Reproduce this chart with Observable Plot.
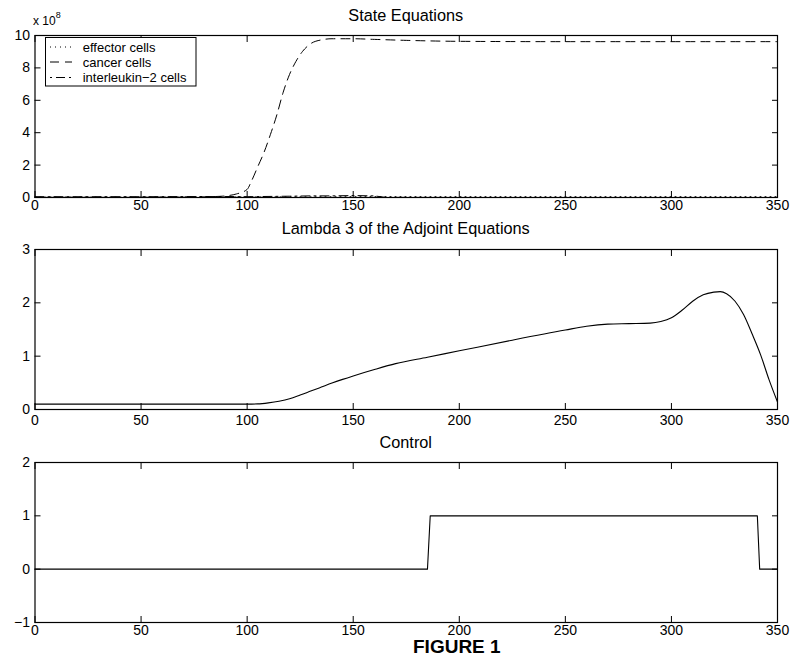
<!DOCTYPE html>
<html><head><meta charset="utf-8">
<script src="https://cdn.jsdelivr.net/npm/d3@7"></script>
<script src="https://cdn.jsdelivr.net/npm/@observablehq/plot@0.6"></script>
<style>
body{margin:0;background:#fff;}
#root{position:relative;width:793px;height:653px;overflow:hidden;font-family:"Liberation Sans",Arial,sans-serif;color:#000;background:#fff;}
#root svg{position:absolute;left:0;}
.ttl{position:absolute;left:34.5px;width:742.5px;text-align:center;font-size:16.3px;line-height:1;white-space:nowrap;}
</style></head><body><div id="root"></div>
<script>
// ---- Panel 1: State Equations (values in units of 1e8) ----
const stateTitle = "State Equations";
const stateMultiplier = "x 10";
const stateExponent = "8";
const seriesNames = ["effector cells", "cancer cells", "interleukin\u22122 cells"];
const cancerT = [0, 20, 40, 60, 80, 85, 90, 95, 100, 102, 105, 108, 111, 114, 117, 120, 123, 126, 130, 135, 140, 150, 160, 175, 200, 250, 300, 350];
const cancerV = [0.01, 0.01, 0.01, 0.02, 0.04, 0.06, 0.1, 0.22, 0.5, 1.0, 1.9, 2.8, 3.9, 5.1, 6.5, 7.6, 8.4, 9.0, 9.5, 9.73, 9.8, 9.8, 9.76, 9.7, 9.64, 9.62, 9.62, 9.62];
const effectorT = [0, 50, 100, 130, 160, 200, 250, 300, 350];
const effectorV = [0.02, 0.02, 0.03, 0.04, 0.05, 0.05, 0.05, 0.05, 0.05];
const il2T = [0, 50, 90, 100, 120, 130, 140, 150, 160, 165, 200, 250, 300, 350];
const il2V = [0.05, 0.05, 0.06, 0.05, 0.08, 0.1, 0.1, 0.12, 0.1, 0.01, 0.0, 0.0, 0.0, 0.0];
const stateYTicks = [0, 2, 4, 6, 8, 10];

// ---- Panel 2: Lambda 3 ----
const lambdaTitle = "Lambda 3 of the Adjoint Equations";
const lambdaT = [0, 50, 100, 105, 110, 115, 120, 125, 130, 135, 140, 145, 150, 160, 170, 185, 200, 225, 250, 260, 270, 280, 290, 295, 300, 305, 310, 315, 320, 323, 326, 330, 334, 338, 342, 346, 350];
const lambdaV = [0.1, 0.1, 0.1, 0.105, 0.125, 0.155, 0.2, 0.27, 0.345, 0.42, 0.495, 0.565, 0.63, 0.75, 0.86, 0.98, 1.1, 1.3, 1.49, 1.56, 1.6, 1.61, 1.62, 1.65, 1.72, 1.86, 2.03, 2.15, 2.2, 2.21, 2.17, 2.03, 1.78, 1.42, 1.03, 0.56, 0.14];
const lambdaYTicks = [0, 1, 2, 3];

// ---- Panel 3: Control ----
const controlTitle = "Control";
const controlT = [0, 185, 186.3, 340.5, 341.6, 350];
const controlV = [0, 0, 1, 1, 0, 0];
const controlYTicks = [-1, 0, 1, 2];

const xTicks = [0, 50, 100, 150, 200, 250, 300, 350];
const figureLabel = "FIGURE 1";

const toRows = (ts, vs) => ts.map((t, i) => ({t, v: vs[i]}));
const fmt = d => (d < 0 ? "\u2212" + (-d) : String(d));
const FONT = "'Liberation Sans', Arial, sans-serif";

function panel({top, height, mt, mb, ydomain, yticks, marks, xpad}) {
  const fig = Plot.plot({
    width: 793, height, marginTop: mt, marginBottom: mb, marginLeft: 34.5, marginRight: 16,
    style: {fontFamily: FONT, fontSize: "14px", color: "#000", background: "transparent", overflow: "visible"},
    x: {domain: [0, 350], label: null},
    y: {domain: ydomain, label: null},
    marks: [
      ...marks,
      Plot.frame({stroke: "#000", strokeWidth: 1.2}),
      Plot.axisX(xTicks, {anchor: "bottom", tickSize: -6, tickPadding: xpad, label: null, fill: "#000", fontSize: 14, tickFormat: fmt}),
      Plot.axisX(xTicks, {anchor: "top", tickSize: -6, tickFormat: () => "", label: null}),
      Plot.axisY(yticks, {anchor: "left", tickSize: -6, tickPadding: 11, label: null, fill: "#000", fontSize: 14, tickFormat: fmt}),
      Plot.axisY(yticks, {anchor: "right", tickSize: -6, tickFormat: () => "", label: null})
    ]
  });
  fig.style.top = top + "px";
  return fig;
}

const root = document.getElementById("root");

root.appendChild(panel({
  top: 0, height: 219, mt: 35, mb: 22, ydomain: [0, 10], yticks: stateYTicks, xpad: 9,
  marks: [
    Plot.line(toRows(effectorT, effectorV), {x: "t", y: "v", stroke: "#000", strokeWidth: 1, strokeDasharray: "1,4"}),
    Plot.line(toRows(il2T, il2V), {x: "t", y: "v", stroke: "#000", strokeWidth: 1, strokeDasharray: "9,4,2,4"}),
    Plot.line(toRows(cancerT, cancerV), {x: "t", y: "v", stroke: "#000", strokeWidth: 1, strokeDasharray: "9,6", curve: "monotone-x"})
  ]
}));

root.appendChild(panel({
  top: 222, height: 209, mt: 27, mb: 22, ydomain: [0, 3], yticks: lambdaYTicks, xpad: 12,
  marks: [
    Plot.line(toRows(lambdaT, lambdaV), {x: "t", y: "v", stroke: "#000", strokeWidth: 1.1, curve: "monotone-x"})
  ]
}));

root.appendChild(panel({
  top: 435, height: 209, mt: 27, mb: 22, ydomain: [-1, 2], yticks: controlYTicks, xpad: 9,
  marks: [
    Plot.line(toRows(controlT, controlV), {x: "t", y: "v", stroke: "#000", strokeWidth: 1.1})
  ]
}));

// Titles
function addDiv(html, css, cls) {
  const d = document.createElement("div");
  if (cls) d.className = cls;
  d.innerHTML = html;
  Object.assign(d.style, css);
  root.appendChild(d);
  return d;
}
addDiv(stateTitle, {top: "7px"}, "ttl");
addDiv(lambdaTitle, {top: "220px"}, "ttl");
addDiv(controlTitle, {top: "434px"}, "ttl");
addDiv(`${stateMultiplier}<sup style="font-size:9px;position:relative;top:-2px;vertical-align:super;">${stateExponent}</sup>`,
  {position: "absolute", left: "33px", top: "13px", fontSize: "12px", lineHeight: "1", whiteSpace: "nowrap"});
addDiv(figureLabel, {position: "absolute", left: "413px", top: "637px", fontSize: "19px", fontWeight: "bold", lineHeight: "1", whiteSpace: "nowrap"});

// Legend (overlay, not data)
const ns = "http://www.w3.org/2000/svg";
const lg = document.createElementNS(ns, "svg");
lg.setAttribute("width", 793); lg.setAttribute("height", 100);
lg.style.top = "0px"; lg.style.left = "0px";
const rect = document.createElementNS(ns, "rect");
Object.entries({x: 45.5, y: 37.5, width: 150.5, height: 48.5, fill: "#fff", stroke: "#000", "stroke-width": 1}).forEach(([k, v]) => rect.setAttribute(k, v));
lg.appendChild(rect);
const dashes = ["1,4", "9,6", "2,4,9,4"];
const rowY = [47, 62, 77.5];
seriesNames.forEach((name, i) => {
  const l = document.createElementNS(ns, "line");
  Object.entries({x1: 50, x2: 72, y1: rowY[i], y2: rowY[i], stroke: "#000", "stroke-width": 1, "stroke-dasharray": dashes[i]}).forEach(([k, v]) => l.setAttribute(k, v));
  lg.appendChild(l);
  const t = document.createElementNS(ns, "text");
  Object.entries({x: 82.7, y: rowY[i], "dominant-baseline": "central", "font-size": 13, "font-family": FONT, fill: "#000"}).forEach(([k, v]) => t.setAttribute(k, v));
  t.textContent = name;
  lg.appendChild(t);
});
root.appendChild(lg);
</script>
</body></html>
